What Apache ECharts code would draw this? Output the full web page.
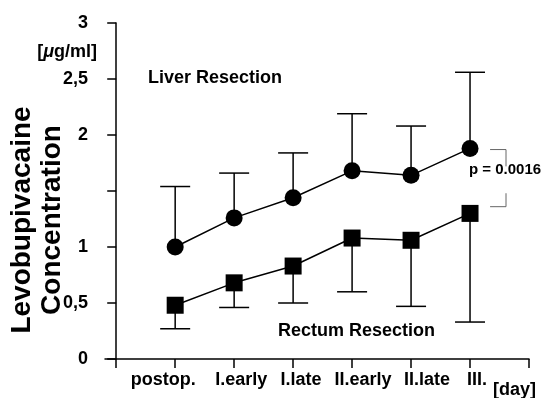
<!DOCTYPE html>
<html>
<head>
<meta charset="utf-8">
<script src="https://cdn.jsdelivr.net/npm/echarts@6/dist/echarts.min.js"></script>
<style>
  html, body { margin: 0; padding: 0; background: #fff; }
  #chart { width: 544px; height: 398px; }
</style>
</head>
<body>
<div id="chart"></div>
<script>
// data
var categories = ['postop.', 'I.early', 'I.late', 'II.early', 'II.late', 'III.'];
var liverMean = [1.00, 1.26, 1.44, 1.68, 1.64, 1.88];
var liverUpper = [1.54, 1.66, 1.84, 2.19, 2.08, 2.56];
var rectumMean = [0.48, 0.68, 0.83, 1.08, 1.06, 1.30];
var rectumLower = [0.27, 0.46, 0.50, 0.60, 0.47, 0.33];
var yTicks = [0, 0.5, 1, 1.5, 2, 2.5, 3];
var hiddenYLabels = [1.5];
var pText = 'p = 0.0016';
// bracket between the last two points (x in category units, y in µg/ml)
var bracketTop = [[6.34, 1.87], [6.61, 1.87], [6.61, 1.72]];
var bracketBottom = [[6.61, 1.48], [6.61, 1.36], [6.34, 1.36]];

// label nudges under the ticks (px), like the original layout
var labelShift = [-12, 7, 8, 11, 16, 7];

var FONT = "'Liberation Sans', Arial, Helvetica, sans-serif";

var chart = echarts.init(document.getElementById('chart'), null, {renderer: 'canvas'});

var liverData = [], liverErr = [], rectumData = [], rectumErr = [];
categories.forEach(function (c, i) {
  liverData.push([i + 1, liverMean[i]]);
  liverErr.push([i + 1, liverMean[i], liverUpper[i]]);
  rectumData.push([i + 1, rectumMean[i]]);
  rectumErr.push([i + 1, rectumMean[i], rectumLower[i]]);
});

var rich = {};
labelShift.forEach(function (s, i) {
  rich['c' + i] = {
    fontFamily: FONT, fontWeight: 'bold', fontSize: 18, color: '#000',
    padding: s > 0 ? [0, 0, 0, 2 * s] : [0, -2 * s, 0, 0]
  };
});

function errorBar(params, api) {
  var x = api.value(0);
  var p0 = api.coord([x, api.value(1)]);
  var p1 = api.coord([x, api.value(2)]);
  var st = {stroke: '#000', lineWidth: 1.5};
  return {
    type: 'group',
    children: [
      {type: 'line', shape: {x1: p0[0], y1: p0[1], x2: p1[0], y2: p1[1]}, style: st},
      {type: 'line', shape: {x1: p1[0] - 15, y1: p1[1], x2: p1[0] + 15, y2: p1[1]}, style: st}
    ]
  };
}

var option = {
  backgroundColor: '#fff',
  animation: false,
  grid: {left: 105, right: 15, top: 23, bottom: 39, containLabel: false},
  xAxis: {
    type: 'value',
    min: -0.19,
    max: 7,
    splitLine: {show: false},
    axisLine: {lineStyle: {color: '#000', width: 1.5}},
    axisTick: {
      customValues: [0, 1, 2, 3, 4, 5, 6, 7],
      length: 9,
      lineStyle: {color: '#000', width: 1.5}
    },
    axisLabel: {
      customValues: [1, 2, 3, 4, 5, 6],
      margin: 12,
      formatter: function (v) {
        var i = Math.round(v) - 1;
        return '{c' + i + '|' + categories[i] + '}';
      },
      rich: rich
    }
  },
  yAxis: {
    type: 'value',
    min: 0,
    max: 3,
    interval: 0.5,
    splitLine: {show: false},
    axisLine: {show: true, onZero: true, lineStyle: {color: '#000', width: 1.5}},
    axisTick: {show: true, length: 9, lineStyle: {color: '#000', width: 1.5}},
    axisLabel: {
      margin: 17,
      fontFamily: FONT, fontWeight: 'bold', fontSize: 18, color: '#000',
      formatter: function (v) {
        if (hiddenYLabels.indexOf(v) >= 0 || yTicks.indexOf(v) < 0) return '';
        return String(v).replace('.', ',');
      }
    }
  },
  series: [
    {
      name: 'Liver error', type: 'custom', renderItem: errorBar, data: liverErr, z: 1,
      encode: {x: 0, y: [1, 2]}, silent: true
    },
    {
      name: 'Rectum error', type: 'custom', renderItem: errorBar, data: rectumErr, z: 1,
      encode: {x: 0, y: [1, 2]}, silent: true
    },
    {
      name: 'Liver Resection', type: 'line', data: liverData, z: 3,
      symbol: 'circle', symbolSize: 17,
      lineStyle: {color: '#000', width: 1.5},
      itemStyle: {color: '#000'}
    },
    {
      name: 'Rectum Resection', type: 'line', data: rectumData, z: 3,
      symbol: 'rect', symbolSize: 17,
      lineStyle: {color: '#000', width: 1.5},
      itemStyle: {color: '#000'}
    },
    {
      name: 'bracket top', type: 'line', data: bracketTop, symbol: 'none', z: 2,
      lineStyle: {color: '#666', width: 1}
    },
    {
      name: 'bracket bottom', type: 'line', data: bracketBottom, symbol: 'none', z: 2,
      lineStyle: {color: '#666', width: 1}
    }
  ],
  graphic: [
    {
      type: 'text', x: 37, y: 220, rotation: Math.PI / 2,
      style: {
        text: 'Levobupivacaine\nConcentration',
        font: 'bold 28px ' + FONT, fill: '#000',
        align: 'center', verticalAlign: 'middle', lineHeight: 30
      }
    },
    {
      type: 'text', x: 97, y: 52,
      style: {
        text: '[{i|μ}g/ml]',
        font: 'bold 18px ' + FONT, fill: '#000',
        align: 'right', verticalAlign: 'middle',
        rich: {i: {fontStyle: 'italic', fontWeight: 'bold', fontSize: 18, fontFamily: FONT}}
      }
    },
    {
      type: 'text', x: 148, y: 78,
      style: {text: 'Liver Resection', font: 'bold 18px ' + FONT, fill: '#000', verticalAlign: 'middle'}
    },
    {
      type: 'text', x: 278, y: 331,
      style: {text: 'Rectum Resection', font: 'bold 18px ' + FONT, fill: '#000', verticalAlign: 'middle'}
    },
    {
      type: 'text', x: 469, y: 170,
      style: {text: pText, font: 'bold 15px ' + FONT, fill: '#000', verticalAlign: 'middle'}
    },
    {
      type: 'text', x: 493, y: 390,
      style: {text: '[day]', font: 'bold 18px ' + FONT, fill: '#000', verticalAlign: 'middle'}
    }
  ]
};

chart.setOption(option);
</script>
</body>
</html>
